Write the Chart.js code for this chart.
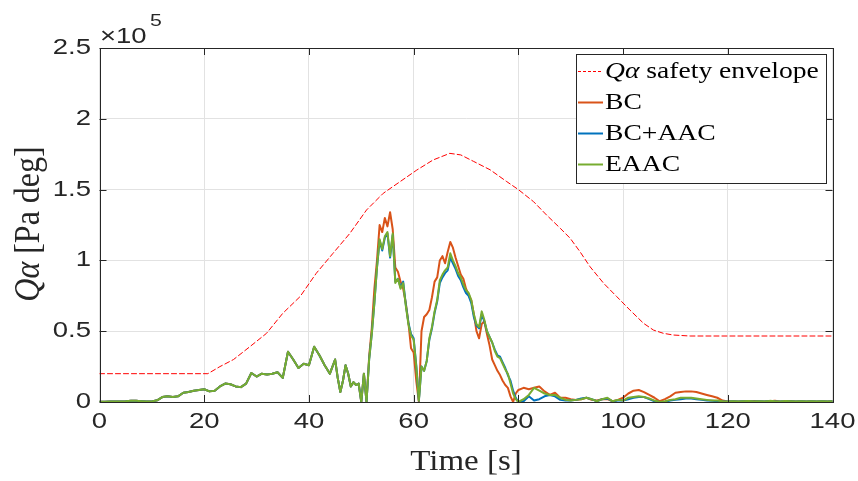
<!DOCTYPE html>
<html>
<head>
<meta charset="utf-8">
<script src="https://cdn.jsdelivr.net/npm/chart.js@4/dist/chart.umd.min.js"></script>
<style>
  html, body { margin: 0; padding: 0; background: #ffffff; }
  #wrap { width: 858px; height: 481px; }
</style>
</head>
<body>
<div id="wrap"><canvas id="c" width="858" height="481"></canvas></div>
<script>
// Sample times [s] shared by the three controller runs
const time = [
  0,1,2,3,4,5,6,7,8,9,10,11,12,13,14,15,16,17,18,19,20,21,22,23,24,25,26,27,28,29,
  30,31,32,33,34,35,36,37,38,39,40,41,42,43,44,45,
  45.5,46,46.5,47,47.5,48,48.5,49,49.5,50,50.5,51,51.5,52,52.5,53,53.5,54,54.5,55,
  55.5,56,56.5,57,57.5,58,58.5,59,59.5,60,60.5,61,61.5,62,62.5,63,63.5,64,64.5,65,
  65.5,66,66.5,67,67.5,68,68.5,69,69.5,70,70.5,71,71.5,72,72.5,73,73.5,74,74.5,75,
  75.5,76,76.5,77,77.5,78,78.5,79,79.5,80,
  81,82,83,84,85,86,87,88,89,90,91,92,93,94,95,96,97,98,99,100,
  101,102,103,104,105,106,107,108,109,110,111,112,113,114,115,116,117,118,119,120,
  121,122,123,124,125,126,127,128,129,130,131,132,133,134,135,136,137,138,139,140
];

// Q-alpha, in units of 1e5 Pa deg
const qaBC = [
  0.002,0.002,0.003,0.004,0.004,0.006,0.009,0.008,0.006,0.004,
  0.004,0.012,0.035,0.040,0.035,0.040,0.065,0.070,0.080,0.085,
  0.090,0.075,0.080,0.110,0.130,0.125,0.110,0.105,0.130,0.205,
  0.180,0.200,0.195,0.200,0.210,0.170,0.355,0.300,0.240,0.270,
  0.260,0.390,0.330,0.260,0.200,0.300,
  0.17,0.07,0.15,0.26,0.20,0.11,0.14,0.12,0.13,0.00,
  0.20,0.00,0.32,0.52,0.80,1.00,1.25,1.20,1.30,1.24,
  1.34,1.22,0.95,0.92,0.85,0.80,0.70,0.56,0.38,0.35,
  0.15,0.00,0.50,0.60,0.62,0.65,0.74,0.85,0.88,1.00,
  1.03,0.98,1.06,1.13,1.09,1.02,0.96,0.90,0.87,0.80,
  0.76,0.72,0.62,0.50,0.45,0.55,0.57,0.48,0.40,0.30,
  0.26,0.22,0.19,0.15,0.12,0.10,0.04,0.00,0.06,0.085,
  0.100,0.090,0.100,0.110,0.075,0.050,0.065,0.030,0.030,0.020,
  0.015,0.020,0.030,0.015,0.010,0.020,0.020,0.005,0.015,0.030,
  0.060,0.080,0.085,0.070,0.050,0.030,0.005,0.020,0.040,0.065,
  0.070,0.075,0.075,0.070,0.060,0.050,0.040,0.030,0.010,0.003,
  0.005,0.003,0.006,0.004,0.007,0.005,0.003,0.006,0.008,0.004,
  0.005,0.007,0.004,0.006,0.003,0.005,0.004,0.006,0.003,0.005
];

const qaBCAAC = [
  0.002,0.002,0.003,0.004,0.004,0.006,0.009,0.008,0.006,0.004,
  0.004,0.012,0.035,0.040,0.035,0.040,0.065,0.070,0.080,0.085,
  0.090,0.075,0.080,0.110,0.130,0.125,0.110,0.105,0.130,0.205,
  0.180,0.200,0.195,0.200,0.210,0.170,0.355,0.300,0.240,0.270,
  0.260,0.390,0.330,0.260,0.200,0.300,
  0.17,0.07,0.15,0.26,0.20,0.11,0.14,0.12,0.13,0.00,
  0.20,0.00,0.30,0.48,0.70,0.95,1.14,1.07,1.16,1.19,
  1.02,1.18,0.85,0.87,0.81,0.85,0.69,0.56,0.48,0.45,
  0.26,0.01,0.25,0.22,0.29,0.44,0.52,0.63,0.71,0.84,
  0.88,0.91,0.93,1.02,0.98,0.94,0.89,0.86,0.81,0.77,
  0.75,0.70,0.60,0.54,0.52,0.62,0.57,0.50,0.46,0.42,
  0.37,0.33,0.32,0.28,0.24,0.19,0.15,0.08,0.03,0.00,
  0.005,0.040,0.010,0.020,0.040,0.050,0.040,0.015,0.010,0.010,
  0.015,0.025,0.030,0.020,0.005,0.020,0.025,0.005,0.010,0.010,
  0.020,0.030,0.035,0.035,0.020,0.005,0.000,0.000,0.010,0.015,
  0.020,0.025,0.025,0.020,0.015,0.010,0.008,0.006,0.004,0.003,
  0.005,0.003,0.005,0.006,0.004,0.006,0.003,0.007,0.005,0.004,
  0.006,0.005,0.003,0.006,0.004,0.005,0.003,0.006,0.004,0.005
];

const qaEAAC = [
  0.002,0.002,0.003,0.004,0.004,0.006,0.009,0.008,0.006,0.004,
  0.004,0.012,0.035,0.040,0.035,0.040,0.065,0.070,0.080,0.085,
  0.090,0.075,0.080,0.110,0.130,0.125,0.110,0.105,0.130,0.205,
  0.180,0.200,0.195,0.200,0.210,0.170,0.355,0.300,0.240,0.270,
  0.260,0.390,0.330,0.260,0.200,0.300,
  0.17,0.07,0.15,0.26,0.20,0.11,0.14,0.12,0.13,0.00,
  0.20,0.00,0.30,0.48,0.70,0.95,1.15,1.08,1.17,1.20,
  1.03,1.19,0.84,0.87,0.80,0.84,0.68,0.55,0.47,0.44,
  0.25,0.01,0.25,0.22,0.29,0.45,0.53,0.64,0.72,0.86,
  0.90,0.93,0.95,1.05,1.00,0.96,0.91,0.88,0.83,0.79,
  0.77,0.72,0.62,0.55,0.53,0.64,0.58,0.50,0.46,0.42,
  0.36,0.32,0.31,0.27,0.23,0.20,0.13,0.06,0.02,0.00,
  0.020,0.050,0.100,0.080,0.060,0.050,0.050,0.030,0.015,0.010,
  0.015,0.020,0.030,0.020,0.005,0.020,0.030,0.005,0.015,0.010,
  0.030,0.035,0.040,0.035,0.025,0.010,0.000,0.005,0.015,0.020,
  0.030,0.030,0.030,0.025,0.020,0.015,0.010,0.010,0.005,0.004,
  0.006,0.003,0.005,0.007,0.004,0.006,0.003,0.008,0.005,0.004,
  0.007,0.005,0.003,0.006,0.004,0.005,0.003,0.006,0.004,0.005
];

// Safety envelope (units of 1e5 Pa deg)
const envTime = [0,20.7,23,25.6,28.7,31.9,35,38.3,41.4,44.6,47.8,51,54.2,57.4,60.6,63.7,66.9,69,
  71.4,74.6,77.8,80,82.9,85.4,88,89.9,91.8,93.7,96.3,98.8,101.3,103.9,105.8,107.7,109.6,112.8,140];
const envValues = [0.2,0.2,0.25,0.30,0.39,0.485,0.626,0.744,0.909,1.05,1.19,1.356,1.474,1.556,1.638,1.709,1.756,1.745,
  1.70,1.64,1.556,1.50,1.415,1.32,1.227,1.156,1.06,0.955,0.838,0.744,0.65,0.556,0.508,0.485,0.473,0.466,0.466];

const xTicks = [0, 20, 40, 60, 80, 100, 120, 140];
const yTicks = [0, 0.5, 1, 1.5, 2, 2.5];
const yTickLabels = ['0', '0.5', '1', '1.5', '2', '2.5'];

const seriesNames = ['Qα safety envelope', 'BC', 'BC+AAC', 'EAAC'];
const seriesColors = ['#ff0000', '#d95319', '#0072bd', '#77ac30'];

const INK = '#262626';
const SANS = '"Liberation Sans", Arial, sans-serif';
const SERIF = '"Liberation Serif", "Times New Roman", serif';
const SX = 1.25;   // horizontal widening of glyphs

function pts(xs, ys) { return xs.map((t, i) => ({ x: t, y: ys[i] })); }

// Draw a run of differently styled text pieces, widened horizontally
function drawRuns(ctx, runs, x, y, align, sx) {
  let w = 0;
  runs.forEach(r => { ctx.font = r.f; r.w = ctx.measureText(r.t).width; w += r.w; });
  ctx.save();
  ctx.translate(x, y);
  ctx.scale(sx, 1);
  let cx = align === 'right' ? -w : (align === 'center' ? -w / 2 : 0);
  ctx.textAlign = 'left';
  runs.forEach(r => { ctx.font = r.f; ctx.fillText(r.t, cx, 0); cx += r.w; });
  ctx.restore();
}

const decor = {
  id: 'decor',
  afterDraw(chart) {
    const ctx = chart.ctx;
    const a = chart.chartArea;
    const xs = chart.scales.x, ys = chart.scales.y;
    ctx.save();
    ctx.fillStyle = INK;
    ctx.strokeStyle = INK;
    ctx.lineWidth = 1;

    // box
    ctx.strokeRect(Math.round(a.left) + 0.5, Math.round(a.top) + 0.5,
      Math.round(a.right - a.left), Math.round(a.bottom - a.top));

    // inward tick marks
    ctx.beginPath();
    xTicks.forEach(v => {
      const px = Math.round(xs.getPixelForValue(v)) + 0.5;
      ctx.moveTo(px, a.bottom); ctx.lineTo(px, a.bottom - 7);
      ctx.moveTo(px, a.top); ctx.lineTo(px, a.top + 7);
    });
    yTicks.forEach(v => {
      const py = Math.round(ys.getPixelForValue(v)) + 0.5;
      ctx.moveTo(a.left, py); ctx.lineTo(a.left + 7, py);
      ctx.moveTo(a.right, py); ctx.lineTo(a.right - 7, py);
    });
    ctx.stroke();

    // tick labels
    ctx.textBaseline = 'middle';
    const tf = '22px ' + SANS;
    xTicks.forEach(v => {
      drawRuns(ctx, [{ t: String(v), f: tf }], xs.getPixelForValue(v), 422, 'center', SX);
    });
    yTicks.forEach((v, i) => {
      drawRuns(ctx, [{ t: yTickLabels[i], f: tf }], 91, ys.getPixelForValue(v), 'right', SX);
    });

    // exponent
    ctx.textBaseline = 'alphabetic';
    drawRuns(ctx, [{ t: '×10', f: '22px ' + SANS }], 100, 43, 'left', SX);
    drawRuns(ctx, [{ t: '5', f: '17px ' + SANS }], 150, 26, 'left', SX);

    // axis titles
    drawRuns(ctx, [{ t: 'Time [s]', f: '30px ' + SERIF }], (a.left + a.right) / 2, 470, 'center', 1.1);
    ctx.save();
    ctx.translate(39, 224);
    ctx.rotate(-Math.PI / 2);
    ctx.scale(1, 1.1);
    const yf = '32px ' + SERIF, yfi = 'italic 32px ' + SERIF;
    const runs = [{ t: 'Qα', f: yfi }, { t: ' [Pa deg]', f: yf }];
    let w = 0;
    runs.forEach(r => { ctx.font = r.f; r.w = ctx.measureText(r.t).width; w += r.w; });
    let cx = -w / 2;
    runs.forEach(r => { ctx.font = r.f; ctx.fillText(r.t, cx, 0); cx += r.w; });
    ctx.restore();

    // legend
    const L = 576, T = 54, R = 826, B = 183;
    ctx.fillStyle = '#ffffff';
    ctx.fillRect(L, T, R - L, B - T);
    ctx.strokeStyle = INK;
    ctx.strokeRect(L + 0.5, T + 0.5, R - L, B - T);
    const base = [78, 109, 140, 171];
    const lf = '23px ' + SERIF, lfi = 'italic 23px ' + SERIF;
    chart.data.datasets.forEach((ds, i) => {
      const yy = base[i] - 6.5;
      ctx.save();
      ctx.strokeStyle = ds.borderColor;
      ctx.lineWidth = i === 0 ? 1 : 2;
      ctx.setLineDash(i === 0 ? [3, 2] : []);
      ctx.beginPath(); ctx.moveTo(578, yy); ctx.lineTo(603, yy); ctx.stroke();
      ctx.restore();
      ctx.fillStyle = '#000000';
      const r = i === 0
        ? [{ t: 'Qα', f: lfi }, { t: ' safety envelope', f: lf }]
        : [{ t: ds.label, f: lf }];
      drawRuns(ctx, r, 605, base[i], 'left', 1.2);
    });
    ctx.restore();
  }
};

// lower "order" is painted later, so EAAC ends up on top
new Chart(document.getElementById('c'), {
  type: 'line',
  data: {
    datasets: [
      { label: seriesNames[0], data: pts(envTime, envValues), borderColor: seriesColors[0],
        borderWidth: 1, borderDash: [5, 3], order: 3 },
      { label: seriesNames[1], data: pts(time, qaBC), borderColor: seriesColors[1], borderWidth: 2, order: 2 },
      { label: seriesNames[2], data: pts(time, qaBCAAC), borderColor: seriesColors[2], borderWidth: 2, order: 1 },
      { label: seriesNames[3], data: pts(time, qaEAAC), borderColor: seriesColors[3], borderWidth: 2, order: 0 }
    ]
  },
  options: {
    responsive: false,
    animation: false,
    devicePixelRatio: 1,
    layout: { padding: { left: 99.5, right: 25.5, top: 48, bottom: 79 } },
    elements: { point: { radius: 0 }, line: { tension: 0, borderJoinStyle: 'round', borderCapStyle: 'round' } },
    plugins: { legend: { display: false }, tooltip: { enabled: false } },
    scales: {
      x: {
        type: 'linear', min: 0, max: 140,
        ticks: { display: false, stepSize: 20 },
        grid: { color: '#e2e2e2', lineWidth: 1, drawTicks: false },
        border: { display: false }
      },
      y: {
        type: 'linear', min: 0, max: 2.5,
        ticks: { display: false, stepSize: 0.5 },
        grid: { color: '#e2e2e2', lineWidth: 1, drawTicks: false },
        border: { display: false }
      }
    }
  },
  plugins: [decor]
});
</script>
</body>
</html>
